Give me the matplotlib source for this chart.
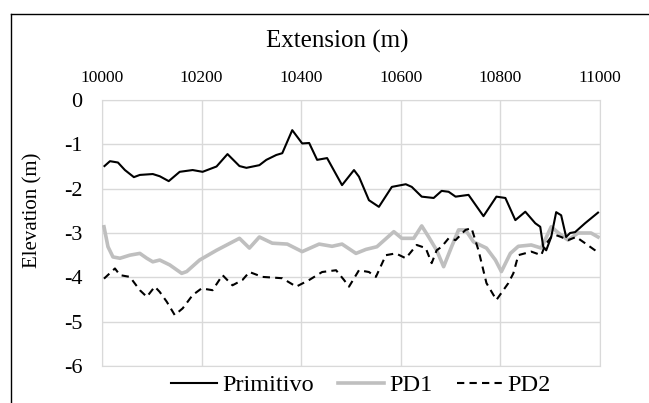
import matplotlib.pyplot as plt
from matplotlib.lines import Line2D

plt.rcParams['font.family'] = ['Liberation Serif', 'DejaVu Serif']

# Primitivo profile
prim_x = [10005, 10016, 10032, 10046, 10064, 10076, 10102, 10116, 10134, 10156,
          10182, 10202, 10230, 10252, 10276, 10290, 10316, 10330, 10350, 10362,
          10382, 10402, 10416, 10432, 10452, 10482, 10506, 10516, 10536, 10556,
          10582, 10610, 10622, 10642, 10666, 10682, 10696, 10710, 10736, 10766,
          10792, 10810, 10830, 10850, 10870, 10880, 10886, 10892, 10902, 10912,
          10922, 10932, 10940, 10950, 10970, 10996]
prim_y = [-1.49, -1.38, -1.41, -1.58, -1.74, -1.69, -1.67, -1.72, -1.83, -1.62,
          -1.58, -1.62, -1.50, -1.22, -1.49, -1.53, -1.47, -1.35, -1.24, -1.20,
          -0.68, -0.98, -0.97, -1.35, -1.31, -1.92, -1.58, -1.73, -2.26, -2.41,
          -1.96, -1.90, -1.96, -2.18, -2.21, -2.05, -2.07, -2.18, -2.14, -2.62,
          -2.18, -2.21, -2.71, -2.52, -2.78, -2.86, -3.31, -3.39, -3.09, -2.53,
          -2.60, -3.09, -3.00, -2.98, -2.78, -2.54]

# PD1 profile
pd1_x = [10004, 10012, 10022, 10036, 10056, 10076, 10090, 10102, 10116, 10136,
         10160, 10170, 10196, 10230, 10276, 10296, 10316, 10342, 10372, 10402,
         10436, 10462, 10482, 10510, 10530, 10552, 10586, 10602, 10626, 10642,
         10656, 10672, 10686, 10702, 10716, 10730, 10746, 10772, 10790, 10802,
         10820, 10836, 10862, 10882, 10902, 10922, 10936, 10956, 10982, 10996]
pd1_y = [-2.86, -3.31, -3.54, -3.57, -3.50, -3.46, -3.57, -3.65, -3.61, -3.72,
         -3.91, -3.87, -3.61, -3.39, -3.12, -3.34, -3.09, -3.23, -3.25, -3.42,
         -3.25, -3.30, -3.25, -3.46, -3.37, -3.31, -2.97, -3.12, -3.12, -2.84,
         -3.09, -3.39, -3.76, -3.31, -2.93, -2.93, -3.20, -3.34, -3.61, -3.87,
         -3.46, -3.30, -3.27, -3.34, -2.86, -3.05, -3.16, -3.00, -3.00, -3.09]

# PD2 profile
pd2_x = [10004, 10026, 10036, 10056, 10076, 10090, 10106, 10116, 10130, 10146,
         10162, 10182, 10200, 10222, 10242, 10262, 10282, 10296, 10322, 10362,
         10390, 10416, 10442, 10470, 10486, 10496, 10516, 10536, 10550, 10570,
         10590, 10610, 10632, 10650, 10662, 10672, 10682, 10696, 10710, 10730,
         10742, 10756, 10772, 10792, 10816, 10826, 10836, 10862, 10882, 10890,
         10902, 10912, 10922, 10936, 10952, 10970, 10990, 10996]
pd2_y = [-4.03, -3.80, -3.95, -3.99, -4.29, -4.44, -4.21, -4.33, -4.55, -4.85,
         -4.70, -4.40, -4.25, -4.29, -3.95, -4.18, -4.06, -3.88, -3.99, -4.02,
         -4.21, -4.06, -3.88, -3.84, -4.06, -4.21, -3.84, -3.88, -3.99, -3.50,
         -3.46, -3.57, -3.27, -3.34, -3.68, -3.39, -3.31, -3.12, -3.16, -2.93,
         -2.89, -3.39, -4.13, -4.51, -4.13, -3.91, -3.50, -3.42, -3.50, -3.27,
         -3.09, -3.05, -3.09, -3.16, -3.09, -3.23, -3.39, -3.46]

x_ticks = [10000, 10200, 10400, 10600, 10800, 11000]
y_ticks = [0, -1, -2, -3, -4, -5, -6]

fig = plt.figure(figsize=(6.49, 4.03), dpi=100)
ax = fig.add_axes([102/649, 1 - 366/403, 498/649, 266/403])

grid_c = '#d9d9d9'
ax.plot(prim_x, prim_y, color='black', lw=1.5, solid_joinstyle='round',
        label='Primitivo', zorder=4)
ax.plot(pd1_x, pd1_y, color='#bfbfbf', lw=2.6, solid_joinstyle='round',
        label='PD1', zorder=3)
ax.plot(pd2_x, pd2_y, color='black', lw=1.5, dashes=(3.5, 2.5),
        label='PD2', zorder=5)

ax.set_xlim(10000, 11000)
ax.set_ylim(-6, 0)
ax.set_xticks(x_ticks)
ax.set_yticks(y_ticks)
ax.set_yticklabels([str(v) for v in y_ticks], fontsize=16)
ax.xaxis.tick_top()
ax.tick_params(axis='x', labelsize=12.5, length=0, pad=10)
ax.tick_params(axis='y', length=0, pad=14)
ax.grid(True, color=grid_c, lw=1)
for s in ax.spines.values():
    s.set_color(grid_c)
ax.set_axisbelow(True)

fig.text(337/649, 1 - 41/403, 'Extension (m)', fontsize=18,
         ha='center', va='center')
fig.text(33/649, 1 - 210/403, 'Elevation (m)', fontsize=15,
         rotation=90, ha='center', va='center')

leg = ax.legend(loc='center', bbox_to_anchor=(361/649, 1 - 385/403),
                bbox_transform=fig.transFigure, ncol=3, frameon=False,
                fontsize=17.5, handlelength=1.9, handletextpad=0.2,
                columnspacing=1.0, borderaxespad=0)

# chart frame (left and top edges visible)
fig.add_artist(Line2D([11/649, 11/649], [0, 1 - 14/403], color='black',
                      lw=1, transform=fig.transFigure))
fig.add_artist(Line2D([11/649, 1], [1 - 14/403, 1 - 14/403], color='black',
                      lw=1, transform=fig.transFigure))

fig.savefig('out.png', dpi=100)
